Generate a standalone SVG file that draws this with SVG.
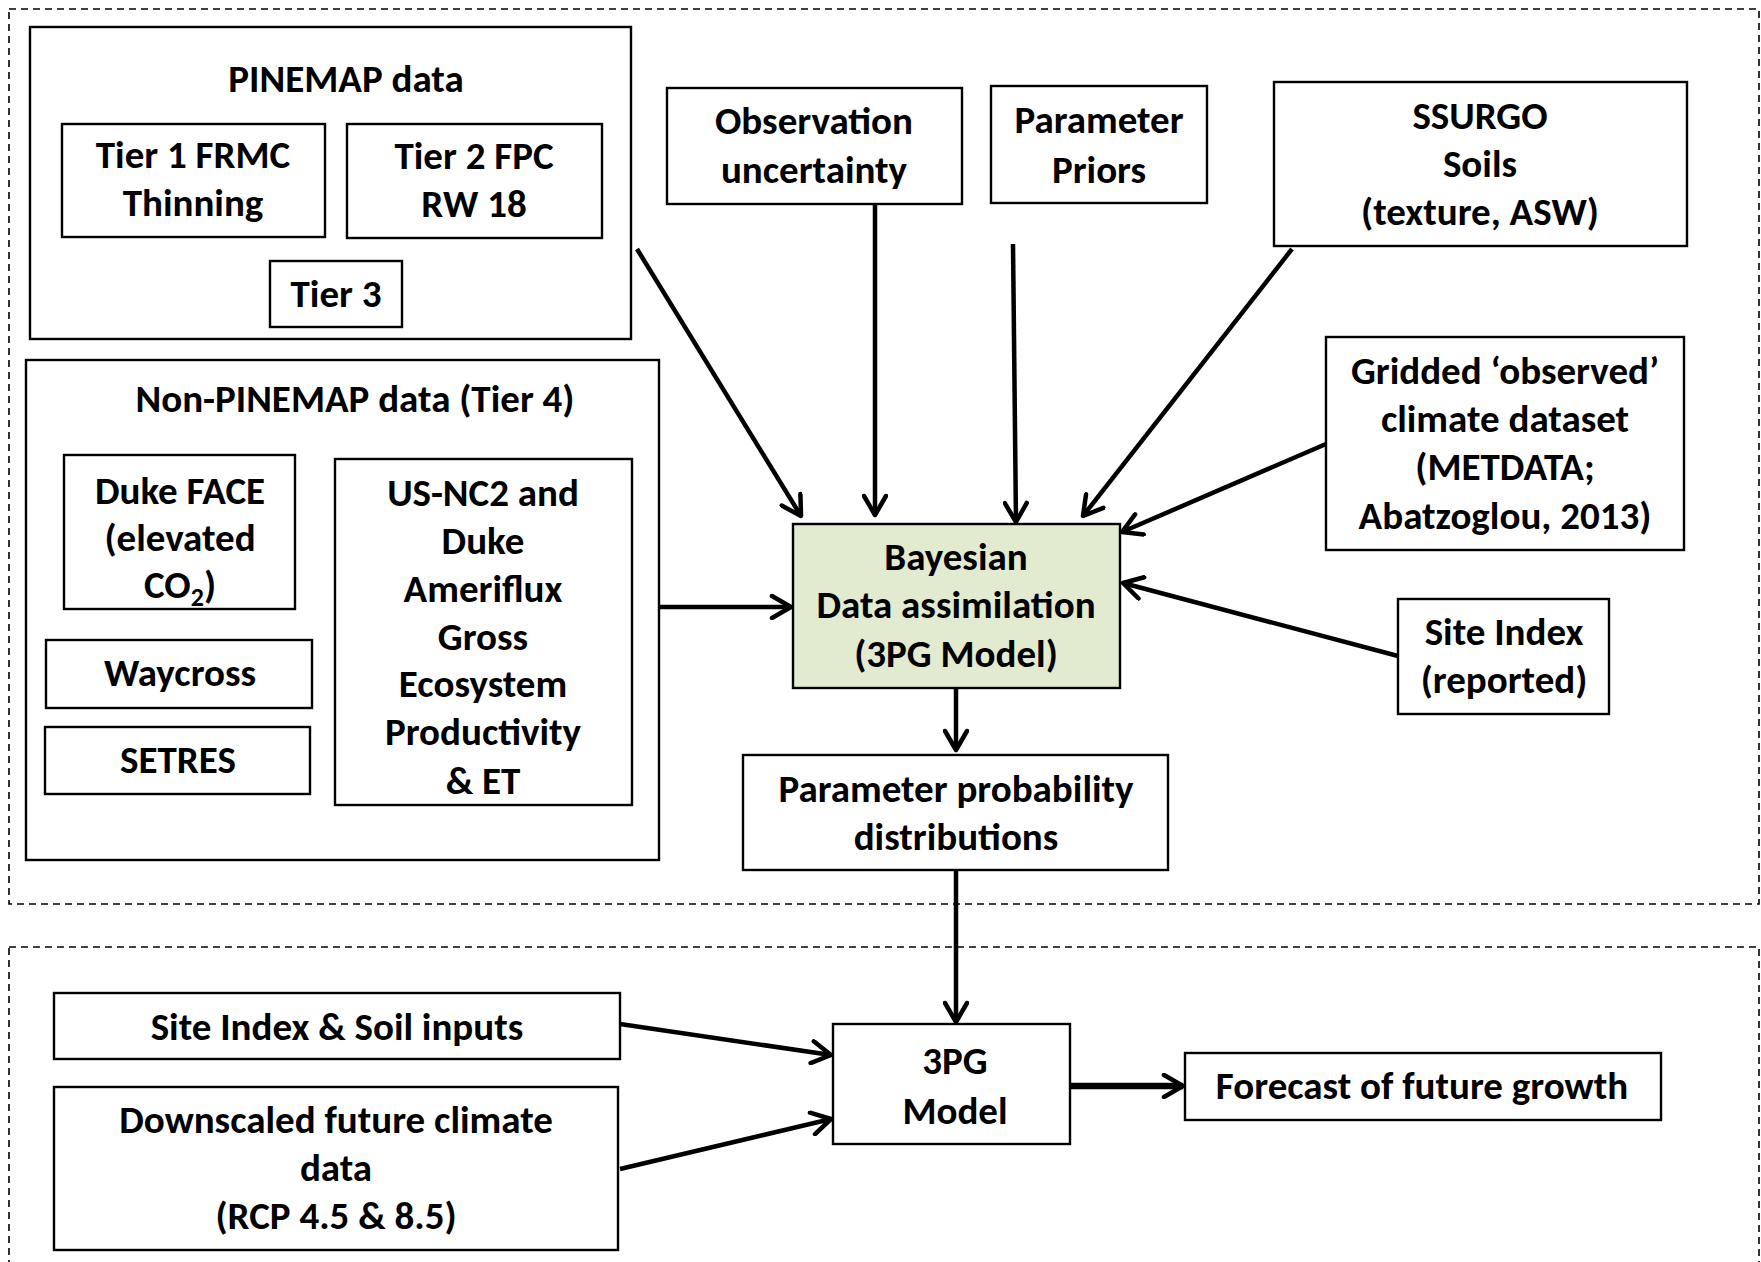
<svg xmlns="http://www.w3.org/2000/svg" width="1761" height="1262" viewBox="0 0 1761 1262">
<defs>
<style>
.dash{fill:none;stroke:#000;stroke-width:1.6;stroke-dasharray:7 5}
.box{fill:#fff;stroke:#000;stroke-width:2.4}
.green{fill:#e2eacf;stroke:#000;stroke-width:2.4}
.t{font-family:Carlito,Lato,"Liberation Sans",sans-serif;font-weight:bold;font-size:39px;text-anchor:middle;fill:#000}
.c{fill:none;stroke:#000;stroke-width:4.5}
</style>
<marker id="ah" markerUnits="userSpaceOnUse" viewBox="0 0 26 26" markerWidth="26" markerHeight="26" refX="22" refY="13" orient="auto">
<path d="M3,2 L22,13 L3,24" fill="none" stroke="#000" stroke-width="4.5" stroke-linecap="round" stroke-linejoin="round"/>
</marker>
</defs>
<rect width="1761" height="1262" fill="#fff"/>
<g id="region-top"><rect class="dash" x="9" y="9" width="1750" height="895"/></g>
<g id="region-bottom"><rect class="dash" x="9" y="947" width="1750" height="330"/></g>

<g id="pinemap">
<rect class="box" x="30" y="27" width="601" height="312"/>
<text class="t" x="346" y="92">PINEMAP data</text>
</g>
<g id="tier1">
<rect class="box" x="62" y="124" width="263" height="113"/>
<text class="t" x="193" y="168">Tier 1 FRMC</text>
<text class="t" x="193" y="216">Thinning</text>
</g>
<g id="tier2">
<rect class="box" x="347" y="124" width="255" height="114"/>
<text class="t" x="474" y="169">Tier 2 FPC</text>
<text class="t" x="474" y="217">RW 18</text>
</g>
<g id="tier3">
<rect class="box" x="270" y="261" width="132" height="66"/>
<text class="t" x="336" y="307">Tier 3</text>
</g>

<g id="nonpinemap">
<rect class="box" x="26" y="360" width="633" height="500"/>
<text class="t" x="355" y="412">Non-PINEMAP data (Tier 4)</text>
</g>
<g id="dukeface">
<rect class="box" x="64" y="455" width="231" height="154"/>
<text class="t" x="180" y="504">Duke FACE</text>
<text class="t" x="180" y="551">(elevated</text>
<text class="t" x="180" y="598">CO<tspan font-size="26" dy="8">2</tspan><tspan dy="-8">)</tspan></text>
</g>
<g id="waycross">
<rect class="box" x="46" y="640" width="266" height="68"/>
<text class="t" x="180" y="686">Waycross</text>
</g>
<g id="setres">
<rect class="box" x="45" y="727" width="265" height="67"/>
<text class="t" x="178" y="773">SETRES</text>
</g>
<g id="usnc2">
<rect class="box" x="335" y="459" width="297" height="346"/>
<text class="t" x="483" y="506">US-NC2 and</text>
<text class="t" x="483" y="554">Duke</text>
<text class="t" x="483" y="602">Ameriflux</text>
<text class="t" x="483" y="650">Gross</text>
<text class="t" x="483" y="697">Ecosystem</text>
<text class="t" x="483" y="745">Productivity</text>
<text class="t" x="483" y="794">&amp; ET</text>
</g>

<g id="obs">
<rect class="box" x="667" y="88" width="295" height="116"/>
<text class="t" x="814" y="134">Observation</text>
<text class="t" x="814" y="183">uncertainty</text>
</g>
<g id="priors">
<rect class="box" x="991" y="86" width="216" height="117"/>
<text class="t" x="1099" y="133">Parameter</text>
<text class="t" x="1099" y="183">Priors</text>
</g>
<g id="ssurgo">
<rect class="box" x="1274" y="82" width="413" height="164"/>
<text class="t" x="1480" y="129">SSURGO</text>
<text class="t" x="1480" y="177">Soils</text>
<text class="t" x="1480" y="225">(texture, ASW)</text>
</g>
<g id="gridded">
<rect class="box" x="1326" y="337" width="358" height="213"/>
<text class="t" x="1505" y="384">Gridded ‘observed’</text>
<text class="t" x="1505" y="432">climate dataset</text>
<text class="t" x="1505" y="480">(METDATA;</text>
<text class="t" x="1505" y="529">Abatzoglou, 2013)</text>
</g>
<g id="bayesian">
<rect class="green" x="793" y="524" width="327" height="164"/>
<text class="t" x="956" y="570">Bayesian</text>
<text class="t" x="956" y="618">Data assimilation</text>
<text class="t" x="956" y="667">(3PG Model)</text>
</g>
<g id="siteindex">
<rect class="box" x="1398" y="599" width="211" height="115"/>
<text class="t" x="1504" y="645">Site Index</text>
<text class="t" x="1504" y="693">(reported)</text>
</g>
<g id="ppd">
<rect class="box" x="743" y="755" width="425" height="115"/>
<text class="t" x="956" y="802">Parameter probability</text>
<text class="t" x="956" y="850">distributions</text>
</g>

<g id="sisoil">
<rect class="box" x="54" y="993" width="566" height="66"/>
<text class="t" x="337" y="1040">Site Index &amp; Soil inputs</text>
</g>
<g id="downscaled">
<rect class="box" x="54" y="1087" width="564" height="163"/>
<text class="t" x="336" y="1133">Downscaled future climate</text>
<text class="t" x="336" y="1181">data</text>
<text class="t" x="336" y="1229">(RCP 4.5 &amp; 8.5)</text>
</g>
<g id="model3pg">
<rect class="box" x="833" y="1024" width="237" height="120"/>
<text class="t" x="955" y="1074">3PG</text>
<text class="t" x="955" y="1124">Model</text>
</g>
<g id="forecast">
<rect class="box" x="1185" y="1053" width="476" height="67"/>
<text class="t" x="1422" y="1099">Forecast of future growth</text>
</g>

<g id="connectors">
<line class="c" x1="637" y1="249" x2="801" y2="516" marker-end="url(#ah)"/>
<line class="c" x1="875" y1="204" x2="875" y2="515" marker-end="url(#ah)"/>
<line class="c" x1="1013" y1="244" x2="1016" y2="522" marker-end="url(#ah)"/>
<line class="c" x1="1292" y1="249" x2="1083" y2="516" marker-end="url(#ah)"/>
<line class="c" x1="1326" y1="444" x2="1122" y2="532" marker-end="url(#ah)"/>
<line class="c" x1="1398" y1="656" x2="1123" y2="583" marker-end="url(#ah)"/>
<line class="c" x1="659" y1="607" x2="791" y2="607" marker-end="url(#ah)"/>
<line class="c" x1="956" y1="688" x2="956" y2="750" marker-end="url(#ah)"/>
<line class="c" x1="956" y1="870" x2="956" y2="1022" marker-end="url(#ah)"/>
<line class="c" x1="620" y1="1024" x2="831" y2="1055" marker-end="url(#ah)"/>
<line class="c" x1="620" y1="1169" x2="831" y2="1119" marker-end="url(#ah)"/>
<line class="c" x1="1070" y1="1086" x2="1183" y2="1086" style="stroke-width:6.5" marker-end="url(#ah)"/>
</g>
</svg>
